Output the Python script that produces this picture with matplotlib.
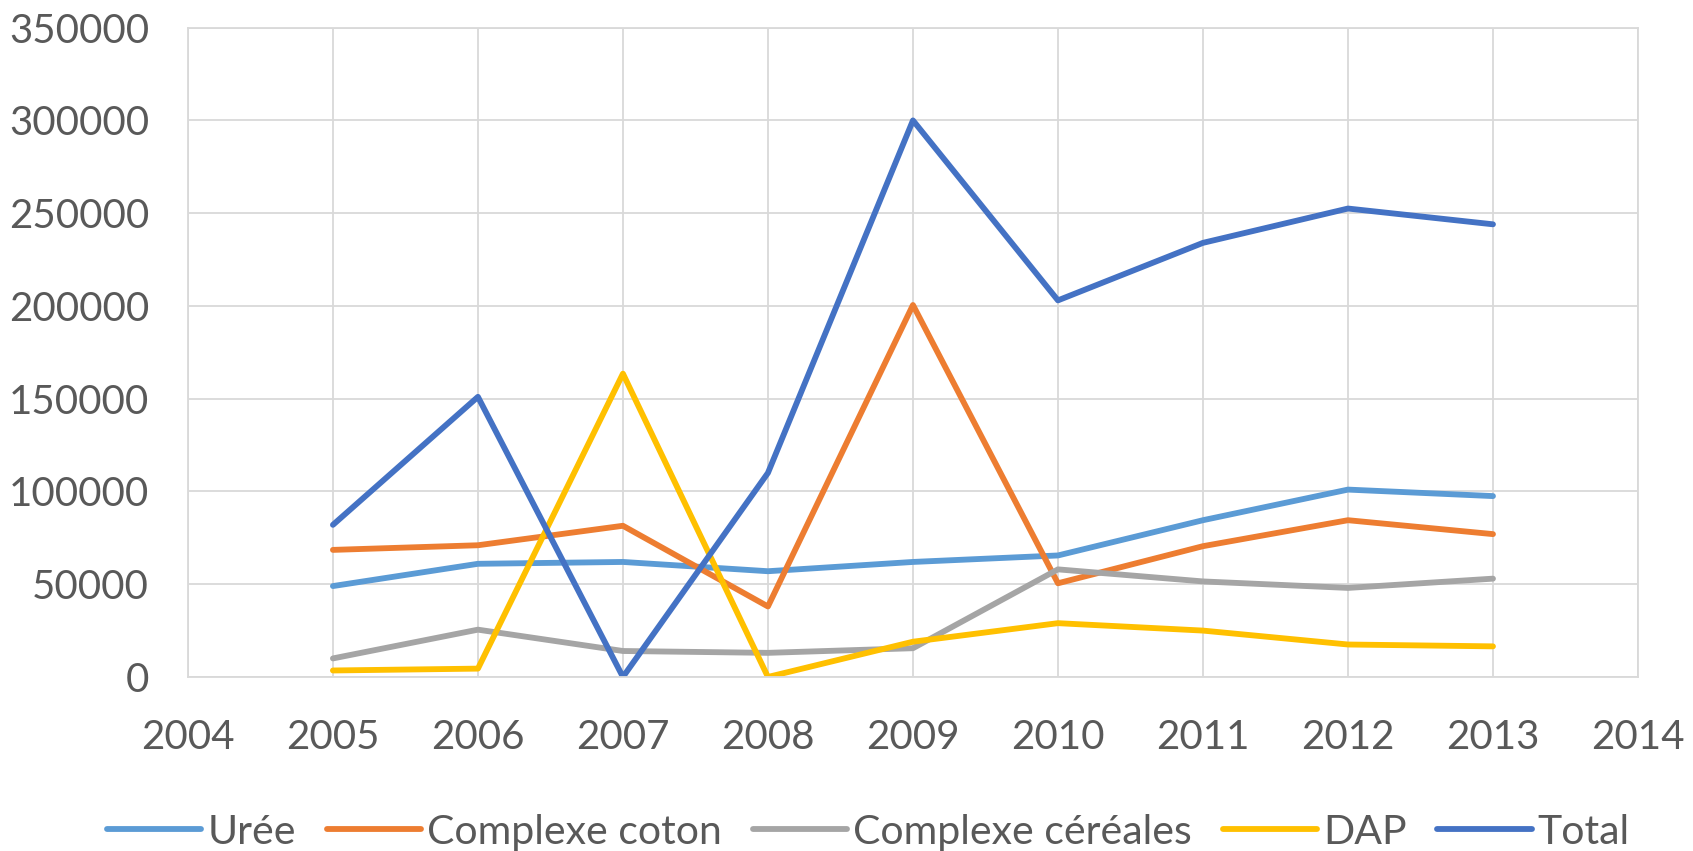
import matplotlib.pyplot as plt

# données
years = [2005, 2006, 2007, 2008, 2009, 2010, 2011, 2012, 2013]
uree = [49000, 61000, 62000, 57000, 62000, 65500, 84500, 101000, 97500]
complexe_coton = [68500, 71000, 81500, 38000, 200500, 50500, 70500, 84500, 77000]
complexe_cereales = [10000, 25500, 14000, 13000, 15500, 58000, 51500, 48000, 53000]
dap = [3500, 4500, 163500, 0, 19000, 29000, 25000, 17500, 16500]
total = [82000, 151000, 0, 110000, 300000, 203000, 234000, 252500, 244000]

series = [
    ('Urée', uree, '#5B9BD5'),
    ('Complexe coton', complexe_coton, '#ED7D31'),
    ('Complexe céréales', complexe_cereales, '#A5A5A5'),
    ('DAP', dap, '#FFC000'),
    ('Total', total, '#4472C4'),
]

plt.rcParams['font.family'] = ['Lato', 'DejaVu Sans']
txt_color = '#595959'
grid_color = '#D9D9D9'

fig = plt.figure(figsize=(16.93, 8.51), dpi=100)
ax = fig.add_axes([0.111, 0.2045, 0.8565, 0.763])

for name, vals, col in series:
    ax.plot(years, vals, color=col, lw=4.2, label=name,
            solid_capstyle='round', solid_joinstyle='round')

ax.set_xlim(2004, 2014)
ax.set_ylim(0, 350000)
ax.set_xticks(range(2004, 2015))
ax.set_yticks(range(0, 350001, 50000))
ax.grid(True, color=grid_color, lw=1.3)
ax.set_axisbelow(True)
for sp in ax.spines.values():
    sp.set_color(grid_color)
    sp.set_linewidth(1.3)

ax.tick_params(axis='both', length=0, labelsize=29, labelcolor=txt_color)
ax.tick_params(axis='x', pad=30)
ax.tick_params(axis='y', pad=28)

fig.legend(loc='center', bbox_to_anchor=(0.513, 0.022), ncol=5,
           frameon=False, fontsize=29.5, labelcolor=txt_color,
           handlelength=2.3, handletextpad=0.15, columnspacing=0.75,
           borderpad=0.1)

fig.savefig('out.png', dpi=100)
